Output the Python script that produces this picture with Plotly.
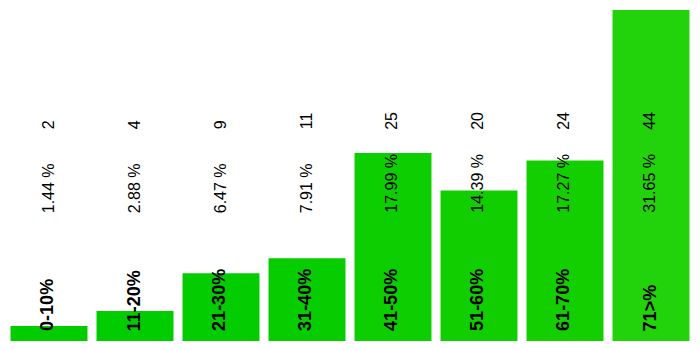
import plotly.graph_objects as go

categories = ["0-10%", "11-20%", "21-30%", "31-40%", "41-50%", "51-60%", "61-70%", "71>%"]
counts = [2, 4, 9, 11, 25, 20, 24, 44]
bar_colors = ["#00CC00", "#01CC00", "#03CC00", "#07CC00", "#0DCE00", "#10CE00", "#13CF00", "#22D20B"]

total = sum(counts)
percents = ["%.2f %%" % (c * 100.0 / total) for c in counts]

fig = go.Figure()
fig.add_trace(go.Bar(
    x=categories, y=counts,
    marker=dict(color=bar_colors, line=dict(width=0)),
    hoverinfo="skip",
))

font_family = "Liberation Sans, Arial, sans-serif"
annotations = []
for cat, cnt, pct in zip(categories, counts, percents):
    annotations.append(dict(x=cat, xref="x", y=0.635, yref="paper", text=str(cnt),
                            textangle=-90, showarrow=False, xanchor="center", yanchor="bottom",
                            xshift=-1, borderpad=0,
                            font=dict(family=font_family, size=16, color="#000000")))
    annotations.append(dict(x=cat, xref="x", y=0.383, yref="paper", text=pct,
                            textangle=-90, showarrow=False, xanchor="center", yanchor="bottom",
                            xshift=-1, borderpad=0,
                            font=dict(family=font_family, size=16, color="#000000")))
    annotations.append(dict(x=cat, xref="x", y=0.026, yref="paper", text="<b>%s</b>" % cat,
                            textangle=-90, showarrow=False, xanchor="center", yanchor="bottom",
                            xshift=-1.5, borderpad=0,
                            font=dict(family=font_family, size=18, color="#000000")))

fig.update_layout(
    width=700, height=350,
    margin=dict(l=6, r=6, t=10, b=9),
    paper_bgcolor="white", plot_bgcolor="white",
    bargap=0.105,
    showlegend=False,
    annotations=annotations,
    xaxis=dict(visible=False, showgrid=False, zeroline=False),
    yaxis=dict(visible=False, range=[0, 44], showgrid=False, zeroline=False),
)

fig.write_html("out.html", config={"displayModeBar": False})
